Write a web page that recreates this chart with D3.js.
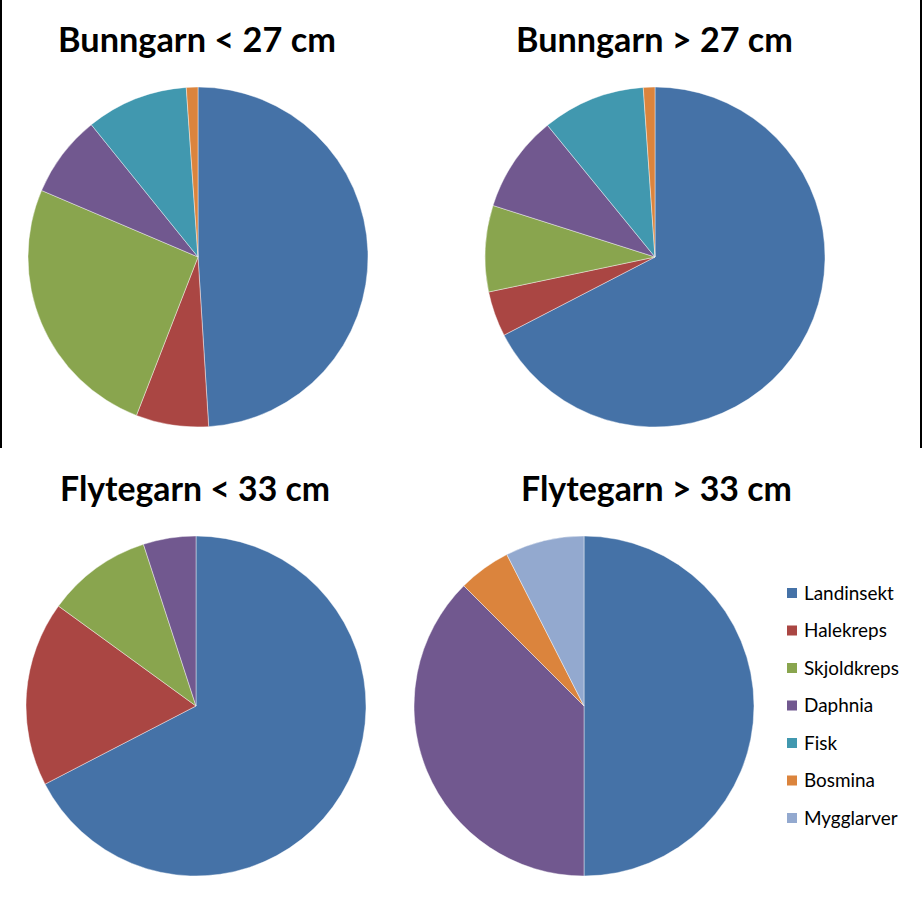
<!DOCTYPE html>
<html>
<head>
<meta charset="utf-8">
<script src="https://cdn.jsdelivr.net/npm/d3@7"></script>
<style>
  html, body { margin: 0; padding: 0; background: #fff; }
  svg { display: block; }
</style>
</head>
<body>
<svg id="chart" width="922" height="899"></svg>
<script>
const categories = ["Landinsekt", "Halekreps", "Skjoldkreps", "Daphnia", "Fisk", "Bosmina", "Mygglarver"];
const colors = ["#4572A7", "#AA4643", "#89A54E", "#71588F", "#4198AF", "#DB843D", "#93A9CF"];
const titles = ["Bunngarn < 27 cm", "Bunngarn > 27 cm", "Flytegarn < 33 cm", "Flytegarn > 33 cm"];
const bunngarnSmall = [49.0, 6.9, 25.5, 7.8, 9.7, 1.1, 0];
const bunngarnLarge = [67.4, 4.3, 8.2, 9.2, 9.8, 1.1, 0];
const flytegarnSmall = [67.4, 17.6, 10.0, 5.0, 0, 0, 0];
const flytegarnLarge = [50.0, 0, 0, 37.5, 0, 5.0, 7.5];

const series = [bunngarnSmall, bunngarnLarge, flytegarnSmall, flytegarnLarge];
const layout = [
  { cx: 198, cy: 257, tx: 197, ty: 52, tw: 278 },
  { cx: 655, cy: 257, tx: 654.5, ty: 52, tw: 277 },
  { cx: 196, cy: 706, tx: 195, ty: 501, tw: 270 },
  { cx: 584, cy: 706, tx: 656.5, ty: 501, tw: 271 }
];
const radius = 170;

const svg = d3.select("#chart");
const color = d3.scaleOrdinal().domain(categories).range(colors);
const pie = d3.pie().sort(null).value(d => d.value);
const arc = d3.arc().innerRadius(0).outerRadius(radius);

// frame lines at edges of upper half
svg.append("line").attr("x1", 1).attr("x2", 1).attr("y1", 0).attr("y2", 448)
  .attr("stroke", "#000").attr("stroke-width", 2);
svg.append("line").attr("x1", 921).attr("x2", 921).attr("y1", 0).attr("y2", 448)
  .attr("stroke", "#000").attr("stroke-width", 2);

series.forEach((vals, i) => {
  const L = layout[i];
  const data = categories.map((c, k) => ({ cat: c, value: vals[k] }));
  const g = svg.append("g").attr("transform", `translate(${L.cx},${L.cy})`);
  g.selectAll("path").data(pie(data).filter(d => d.data.value > 0)).join("path")
    .attr("d", arc)
    .attr("fill", d => color(d.data.cat))
    .attr("stroke", "#ffffff")
    .attr("stroke-opacity", 0.6)
    .attr("stroke-width", 0.7);

  const t = svg.append("text")
    .attr("x", L.tx).attr("y", L.ty)
    .attr("text-anchor", "middle")
    .attr("font-family", "Lato, 'Open Sans', sans-serif")
    .attr("font-weight", "bold")
    .attr("font-size", 30)
    .attr("fill", "#000")
    .text(titles[i]);
  const w = t.node().getComputedTextLength();
  t.attr("font-size", 30 * L.tw / w);
});

// legend
const legend = svg.append("g").attr("transform", "translate(787,593)");
const items = legend.selectAll("g").data(categories).join("g")
  .attr("transform", (d, i) => `translate(0,${i * 37.5})`);
items.append("rect").attr("x", 0).attr("y", -5).attr("width", 10).attr("height", 10)
  .attr("fill", d => color(d));
const lt = items.append("text").attr("x", 17).attr("y", 0).attr("dy", "0.35em")
  .attr("font-family", "Lato, 'Open Sans', sans-serif")
  .attr("font-size", 17).attr("fill", "#000")
  .text(d => d);
const lw = lt.filter(d => d === "Landinsekt").node().getComputedTextLength();
lt.attr("font-size", 17 * 90 / lw);
</script>
</body>
</html>
